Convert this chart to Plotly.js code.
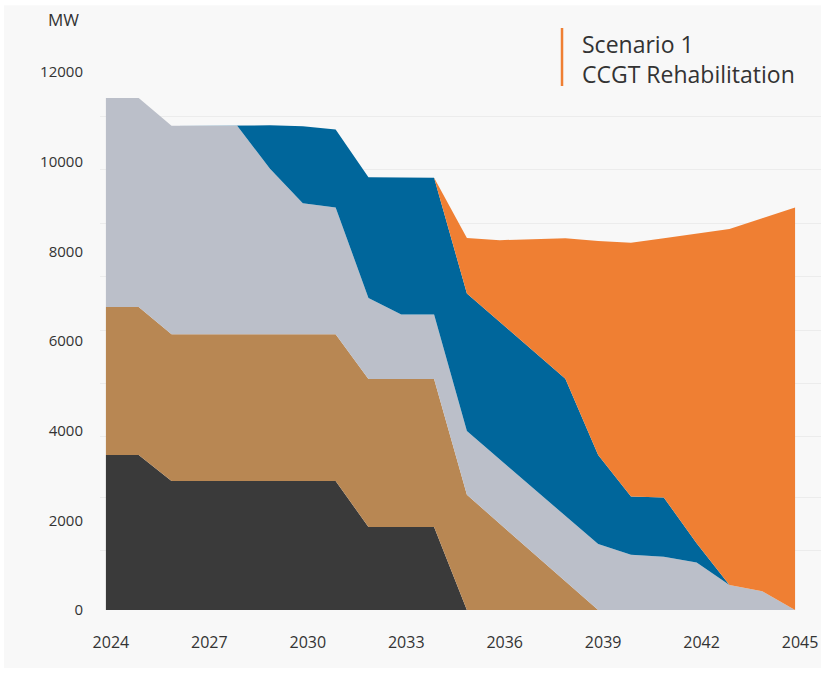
<!DOCTYPE html>
<html>
<head>
<meta charset="utf-8">
<script src="https://cdn.plot.ly/plotly-3.0.1.min.js"></script>
<style>html,body{margin:0;padding:0;background:#ffffff;}#chart{width:821px;height:673px;}</style>
</head>
<body>
<div id="chart"></div>
<script>
// Data (MW), stacked layers from bottom to top
const years = [2024,2025,2026,2027,2028,2029,2030,2031,2032,2033,2034,2035,2036,2037,2038,2039,2040,2041,2042,2043,2044,2045];
const darkLayer   = [3460,3460,2880,2880,2880,2880,2880,2880,1850,1850,1850,0,0,0,0,0,0,0,0,0,0,0];
const brownLayer  = [3300,3300,3270,3270,3270,3270,3270,3270,3300,3300,3300,2570,1920,1280,640,0,0,0,0,0,0,0];
const greyLayer   = [4660,4660,4650,4650,4650,3690,2920,2830,1810,1440,1440,1420,1440,1450,1460,1470,1230,1190,1060,560,420,0];
const blueLayer   = [0,0,0,0,0,970,1720,1740,2690,3060,3050,3070,3070,3060,3060,1990,1300,1320,430,0,0,0];
const orangeLayer = [0,0,0,0,0,0,0,0,0,0,0,1240,1820,2480,3130,4770,5660,5780,6900,7940,8320,8980];
const seriesNames = ["Coal","Oil","OCGT","Existing CCGT","CCGT Rehabilitation"];
const seriesColors = ["#3a3a3a","#b88753","#bbbfc9","#00669b","#ef7f33"];
const yTicks = [0,2000,4000,6000,8000,10000,12000];
const xTicks = [2024,2027,2030,2033,2036,2039,2042,2045];
const titleLines = ["Scenario 1","CCGT Rehabilitation"];
const unitLabel = "MW";

const layers = [darkLayer, brownLayer, greyLayer, blueLayer, orangeLayer];
const traces = layers.map((vals, i) => ({
  type: 'scatter',
  x: years,
  y: vals,
  name: seriesNames[i],
  stackgroup: 'one',
  mode: 'lines',
  line: {width: 0, color: seriesColors[i]},
  fillcolor: seriesColors[i],
  hoverinfo: 'x+y+name'
}));
// empty trace to carry the faint background grid axis
traces.push({type:'scatter', x:[], y:[], yaxis:'y2', showlegend:false, hoverinfo:'skip'});

const font = {family: 'Open Sans, Noto Sans, sans-serif', color: '#333333'};

const layout = {
  width: 821, height: 673,
  margin: {l: 100, r: 0, t: 72, b: 63},
  paper_bgcolor: '#ffffff',
  plot_bgcolor: 'rgba(0,0,0,0)',
  showlegend: false,
  font: font,
  xaxis: {
    range: [2023.82, 2045.79],
    tickvals: xTicks,
    ticktext: xTicks.map(String),
    showgrid: false, zeroline: false, showline: false,
    ticks: '',
    tickfont: {size: 16, color: '#333333', family: 'Open Sans'},
    ticklabelstandoff: 21,
    ticklabelshift: 5
  },
  yaxis: {
    range: [0, 12000],
    tickvals: yTicks,
    ticktext: yTicks.map(String),
    showgrid: false, zeroline: false, showline: false,
    ticks: '',
    tickfont: {size: 15, color: '#333333', family: 'Open Sans'},
    ticklabelstandoff: 16
  },
  yaxis2: {
    overlaying: 'y', side: 'right', range: [0, 1],
    tickvals: [0.110, 0.209, 0.322, 0.421, 0.520, 0.620, 0.719, 0.818, 0.918],
    showticklabels: false, ticks: '',
    showgrid: true, gridcolor: '#ececec', gridwidth: 1,
    zeroline: false, showline: false
  },
  shapes: [
    {type: 'rect', xref: 'paper', yref: 'paper', x0: -0.133, x1: 1.0, y0: -0.108, y1: 1.124,
     fillcolor: '#f8f8f8', line: {width: 0}, layer: 'below'},
    {type: 'line', xref: 'paper', yref: 'paper', x0: 0.6408, x1: 0.6408, y0: 0.974, y1: 1.0818,
     line: {color: '#ef7f33', width: 2.5}}
  ],
  annotations: [
    {xref: 'paper', yref: 'paper', x: -0.0513, y: 1.0967, xanchor: 'center', yanchor: 'middle',
     text: unitLabel, showarrow: false, font: {size: 17, color: '#333333', family: 'Open Sans'}},
    {xref: 'paper', yref: 'paper', x: 0.6657, y: 1.0242, xanchor: 'left', yanchor: 'middle', align: 'left',
     text: titleLines.join('<br>'), showarrow: false, font: {size: 23, color: '#333333', family: 'Open Sans'}}
  ]
};

Plotly.newPlot('chart', traces, layout, {displayModeBar: false, staticPlot: true});
</script>
</body>
</html>
